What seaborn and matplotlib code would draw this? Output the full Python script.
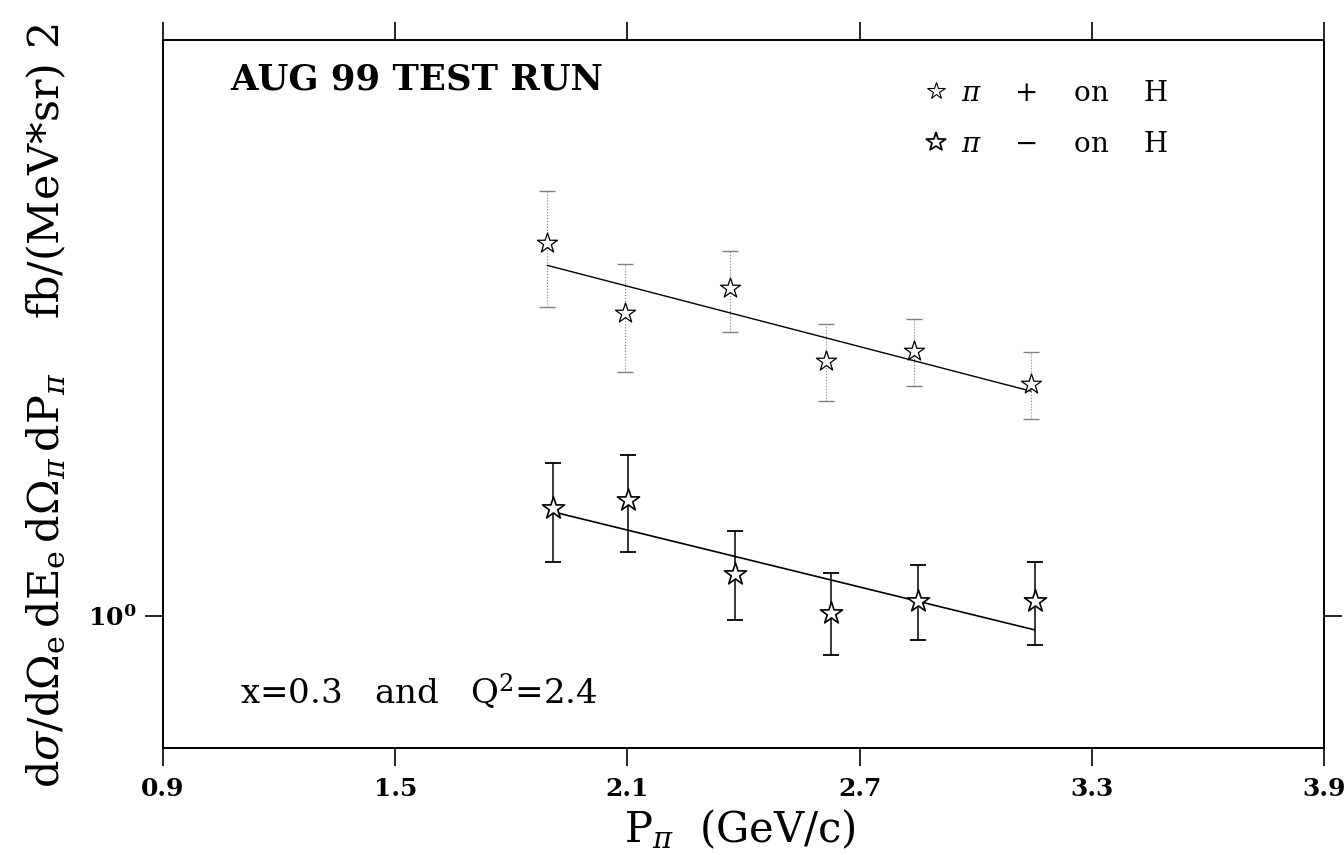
import matplotlib
matplotlib.use("Agg")
import numpy as np
import pandas as pd
import seaborn as sns
import matplotlib.pyplot as plt
from matplotlib.ticker import NullLocator, FixedLocator
from matplotlib.lines import Line2D

# ---------------- data ----------------
pip_x = [1.893, 2.094, 2.365, 2.614, 2.840, 3.143]
pip_y = [1.879, 1.669, 1.743, 1.540, 1.565, 1.482]
pip_lo = [1.688, 1.512, 1.616, 1.438, 1.475, 1.395]
pip_hi = [2.053, 1.815, 1.854, 1.638, 1.654, 1.562]

pim_x = [1.907, 2.102, 2.377, 2.626, 2.850, 3.152]
pim_y = [1.200, 1.217, 1.074, 1.006, 1.026, 1.025]
pim_lo = [1.096, 1.115, 0.993, 0.936, 0.960, 0.952]
pim_hi = [1.296, 1.314, 1.154, 1.076, 1.091, 1.095]

fit_pip_x = [1.893, 3.143]
fit_pip_y = [1.810, 1.463]
fit_pim_x = [1.907, 3.152]
fit_pim_y = [1.193, 0.977]

x_ticks = [0.9, 1.5, 2.1, 2.7, 3.3, 3.9]
x_ticklabels = ["0.9", "1.5", "2.1", "2.7", "3.3", "3.9"]
series_labels = [r"$\pi$    +    on    H", r"$\pi$    $-$    on    H"]

# ---------------- style ----------------
sns.set_theme(style="ticks")
plt.rcParams["font.family"] = ["DejaVu Serif"]
plt.rcParams["mathtext.fontset"] = "dejavuserif"
plt.rcParams["text.color"] = "black"
plt.rcParams["axes.labelcolor"] = "black"
plt.rcParams["xtick.color"] = "black"
plt.rcParams["ytick.color"] = "black"

fig = plt.figure(figsize=(13.44, 8.55), dpi=100)
ax = fig.add_axes([163 / 1344, 1 - 748 / 855, 1161 / 1344, 708 / 855])

df_p = pd.DataFrame({"x": pip_x, "y": pip_y, "lo": pip_lo, "hi": pip_hi})
df_m = pd.DataFrame({"x": pim_x, "y": pim_y, "lo": pim_lo, "hi": pim_hi})

# error bars
e1 = ax.errorbar(df_p["x"], df_p["y"],
                 yerr=[df_p["y"] - df_p["lo"], df_p["hi"] - df_p["y"]],
                 fmt="none", ecolor="0.5", elinewidth=0.8, capsize=5.5,
                 capthick=1.0, zorder=2)
for lc in e1[2]:
    lc.set_linestyle(":")
ax.errorbar(df_m["x"], df_m["y"],
            yerr=[df_m["y"] - df_m["lo"], df_m["hi"] - df_m["y"]],
            fmt="none", ecolor="black", elinewidth=1.1, capsize=5.5,
            capthick=1.3, zorder=2)

# fit lines
sns.lineplot(x=fit_pip_x, y=fit_pip_y, ax=ax, color="black", lw=1.0, zorder=3)
sns.lineplot(x=fit_pim_x, y=fit_pim_y, ax=ax, color="black", lw=1.2, zorder=3)

# star markers
sns.scatterplot(data=df_p, x="x", y="y", ax=ax, marker="*", s=230,
                color="white", edgecolor="black", linewidth=0.9, zorder=4)
sns.scatterplot(data=df_m, x="x", y="y", ax=ax, marker="*", s=280,
                color="white", edgecolor="black", linewidth=1.2, zorder=4)

# axes
ax.set_yscale("log")
ax.set_xlim(0.9, 3.9)
ax.set_ylim(0.8, 2.65)
ax.xaxis.set_major_locator(FixedLocator(x_ticks))
ax.set_xticklabels(x_ticklabels, fontweight="bold", fontsize=18)
ax.yaxis.set_major_locator(FixedLocator([1.0]))
ax.yaxis.set_minor_locator(NullLocator())
ax.set_yticklabels([r"$\mathbf{10^0}$"], fontsize=18)
ax.tick_params(axis="both", which="major", direction="out", length=13,
               width=1.2, color="black", top=True, right=True,
               labeltop=False, labelright=False)
ax.tick_params(axis="x", pad=8)
ax.tick_params(axis="y", pad=6)
for s in ax.spines.values():
    s.set_visible(True)
    s.set_linewidth(1.4)
    s.set_color("black")

ax.set_xlabel(r"P$_\pi$  (GeV/c)", fontsize=30)
ax.xaxis.set_label_coords(0.497, -0.084)
ax.set_ylabel(r"d$\sigma$/d$\Omega_{\rm e}\,$dE$_{\rm e}\,$d$\Omega_\pi\,$dP$_\pi$    fb/(MeV*sr) 2",
              fontsize=31)
ax.yaxis.set_label_coords(-0.082, 0.483)

# annotations
ax.text((230 - 163) / 1161, (748 - 62) / 708, "AUG 99 TEST RUN",
        transform=ax.transAxes, fontsize=25.5, fontweight="bold",
        va="top", ha="left")
ax.text((240 - 163) / 1161, (748 - 692) / 708, r"x=0.3   and   Q$^2$=2.4",
        transform=ax.transAxes, fontsize=24.5, va="center", ha="left")

handles = [
    Line2D([], [], ls="none", marker="*", ms=13, mfc="white", mec="black", mew=0.8),
    Line2D([], [], ls="none", marker="*", ms=15, mfc="white", mec="black", mew=1.3),
]
ax.legend(handles, series_labels, loc="upper left",
          bbox_to_anchor=((925 - 163) / 1161, (748 - 80) / 708),
          frameon=False, fontsize=20,
          handlelength=0.8, handletextpad=0.5, labelspacing=0.85,
          borderaxespad=0, borderpad=0)

fig.savefig("out.png", dpi=100)
